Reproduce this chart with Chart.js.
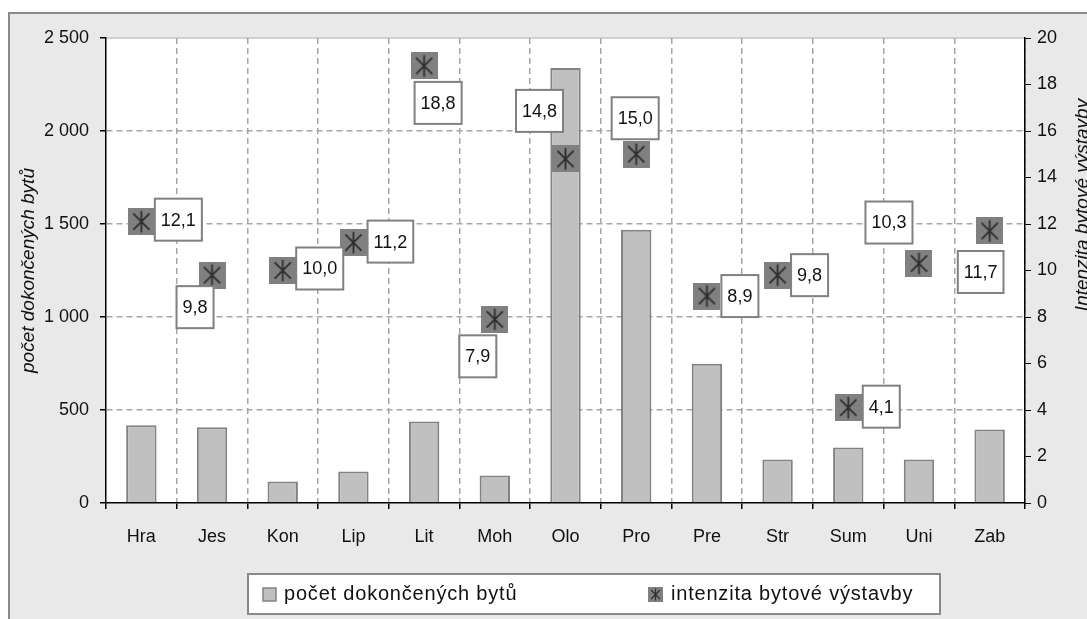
<!DOCTYPE html>
<html>
<head>
<meta charset="utf-8">
<script src="https://cdn.jsdelivr.net/npm/chart.js@4.4.1/dist/chart.umd.min.js"></script>
<style>
  html, body { margin: 0; padding: 0; background: #fff; }
  #wrap { width: 1087px; height: 619px; position: relative; }
</style>
</head>
<body>
<div id="wrap"><canvas id="chart"></canvas></div>
<script>
const categories = ['Hra', 'Jes', 'Kon', 'Lip', 'Lit', 'Moh', 'Olo', 'Pro', 'Pre', 'Str', 'Sum', 'Uni', 'Zab'];
const completedFlats = [418, 407, 115, 169, 438, 148, 2339, 1469, 749, 234, 298, 234, 395];
const intensity = [12.1, 9.8, 10.0, 11.2, 18.8, 7.9, 14.8, 15.0, 8.9, 9.8, 4.1, 10.3, 11.7];
const leftTicks = [0, 500, 1000, 1500, 2000, 2500];
const rightTicks = [0, 2, 4, 6, 8, 10, 12, 14, 16, 18, 20];

// where each value box sits, relative to its marker (box centre)
const labelOffsets = [[37, -2], [-17, 32], [37, -2], [37, -1], [14, 37], [-17, 37], [-26, -48],
                      [-1, -36], [33, 0], [32, 0], [33, -1], [-30, -41], [-9, 41]];

const FONT = '"Liberation Sans", Arial, sans-serif';
const textColor = '#111';

function makeMarker(size) {
  const c = document.createElement('canvas');
  c.width = size; c.height = size;
  const g = c.getContext('2d');
  g.fillStyle = '#808080';
  g.fillRect(0, 0, size, size);
  g.strokeStyle = '#2e2e2e';
  g.lineWidth = size > 20 ? 1.8 : 1.2;
  const m = size / 2, a = size * 0.2, b = size * 0.8;
  g.beginPath();
  g.moveTo(m, size * 0.1); g.lineTo(m, size * 0.9);
  g.moveTo(a, a); g.lineTo(b, b);
  g.moveTo(b, a); g.lineTo(a, b);
  g.stroke();
  return c;
}
const marker = makeMarker(27);
const legendMarker = makeMarker(15);

function fmtSpace(v) {
  return String(v).replace(/\B(?=(\d{3})+(?!\d))/g, ' ');
}

const framePlugin = {
  id: 'frame',
  beforeDraw(chart) {
    const { ctx, chartArea: a, width, height } = chart;
    ctx.save();
    ctx.fillStyle = '#fff';
    ctx.fillRect(0, 0, width, height);
    ctx.fillStyle = '#e9e9e9';
    ctx.fillRect(8, 12, width - 8, height - 12);
    ctx.strokeStyle = '#8a8a8a';
    ctx.lineWidth = 2;
    ctx.beginPath();
    ctx.moveTo(9, height); ctx.lineTo(9, 13); ctx.lineTo(width, 13);
    ctx.stroke();
    ctx.fillStyle = '#fff';
    ctx.fillRect(a.left, a.top, a.right - a.left, a.bottom - a.top);
    ctx.strokeStyle = '#c4c4c4';
    ctx.lineWidth = 1.5;
    ctx.beginPath();
    ctx.moveTo(a.left, a.top); ctx.lineTo(a.right, a.top);
    ctx.stroke();
    ctx.restore();
  },
  afterDraw(chart) {
    const { ctx } = chart;
    // right axis title, reads bottom to top like the left one
    ctx.save();
    ctx.translate(1088, 205);
    ctx.rotate(-Math.PI / 2);
    ctx.font = 'italic 19px ' + FONT;
    ctx.fillStyle = textColor;
    ctx.textAlign = 'center';
    ctx.textBaseline = 'alphabetic';
    ctx.fillText('Intenzita bytové výstavby', 0, 0);
    ctx.restore();

    // legend
    const ds = chart.data.datasets;
    ctx.save();
    ctx.fillStyle = '#fff';
    ctx.fillRect(248, 574, 692, 40);
    ctx.strokeStyle = '#8a8a8a';
    ctx.lineWidth = 2;
    ctx.strokeRect(248, 574, 692, 40);
    ctx.font = '20px ' + FONT;
    ctx.letterSpacing = '0.8px';
    ctx.textBaseline = 'middle';
    const ly = 594;
    ctx.fillStyle = ds[0].backgroundColor;
    ctx.fillRect(263, ly - 6, 13, 13);
    ctx.strokeStyle = ds[0].borderColor;
    ctx.lineWidth = 1.5;
    ctx.strokeRect(263, ly - 6, 13, 13);
    ctx.fillStyle = textColor;
    ctx.fillText(ds[0].label, 284, ly);
    ctx.drawImage(legendMarker, 648, ly - 7);
    ctx.fillText(ds[1].label, 671, ly);
    ctx.restore();
  }
};

const valueBoxes = {
  id: 'valueBoxes',
  afterDatasetsDraw(chart) {
    const { ctx } = chart;
    const meta = chart.getDatasetMeta(1);
    ctx.save();
    ctx.font = '18px ' + FONT;
    meta.data.forEach((pt, i) => {
      const txt = intensity[i].toFixed(1).replace('.', ',');
      const w = ctx.measureText(txt).width + 12;
      const h = 42;
      const cx = pt.x + labelOffsets[i][0];
      const cy = pt.y + labelOffsets[i][1];
      ctx.fillStyle = '#fff';
      ctx.fillRect(cx - w / 2, cy - h / 2, w, h);
      ctx.strokeStyle = '#808080';
      ctx.lineWidth = 2;
      ctx.strokeRect(cx - w / 2, cy - h / 2, w, h);
      ctx.fillStyle = textColor;
      ctx.textAlign = 'center';
      ctx.textBaseline = 'middle';
      ctx.fillText(txt, cx, cy + 1);
    });
    ctx.restore();
  }
};

new Chart(document.getElementById('chart'), {
  data: {
    labels: categories,
    datasets: [{
      type: 'bar',
      label: 'počet dokončených bytů',
      data: completedFlats,
      backgroundColor: '#c0c0c0',
      borderColor: '#828282',
      borderWidth: 2,
      borderSkipped: 'bottom',
      categoryPercentage: 1,
      barPercentage: 0.43,
      yAxisID: 'y',
      order: 2
    }, {
      type: 'line',
      label: 'intenzita bytové výstavby',
      data: intensity,
      showLine: false,
      pointStyle: marker,
      pointRadius: 13,
      yAxisID: 'y1',
      order: 1
    }]
  },
  options: {
    responsive: true,
    maintainAspectRatio: false,
    animation: false,
    layout: { padding: { top: 38, bottom: 66, left: 0, right: 0 } },
    plugins: {
      legend: { display: false },
      tooltip: { enabled: false }
    },
    scales: {
      x: {
        offset: true,
        afterFit: s => { s.height = 50; },
        grid: {
          offset: true,
          color: c => (c.index === 0 || c.index === categories.length) ? 'rgba(0,0,0,0)' : '#a6a6a6',
          lineWidth: 1.5,
          tickColor: '#000',
          tickLength: 6,
          tickBorderDash: []
        },
        border: { color: '#000', width: 1.5, dash: [6, 4] },
        ticks: { color: textColor, font: { family: FONT, size: 18 }, padding: 17 }
      },
      y: {
        position: 'left',
        min: leftTicks[0],
        max: leftTicks[leftTicks.length - 1],
        afterFit: s => { s.width = 106; },
        afterBuildTicks: s => { s.ticks = leftTicks.map(v => ({ value: v })); },
        grid: {
          color: c => (c.tick && (c.tick.value === 0 || c.tick.value === 2500)) ? 'rgba(0,0,0,0)' : '#a6a6a6',
          lineWidth: 1.5,
          tickColor: '#000',
          tickLength: 6,
          tickBorderDash: []
        },
        border: { color: '#000', width: 1.5, dash: [6, 4] },
        ticks: {
          color: textColor,
          font: { family: FONT, size: 18 },
          padding: 11,
          callback: v => fmtSpace(v)
        },
        title: {
          display: true,
          text: 'počet dokončených bytů',
          color: textColor,
          font: { family: FONT, size: 19, style: 'italic' },
          padding: { top: 17, bottom: 0 }
        }
      },
      y1: {
        position: 'right',
        min: rightTicks[0],
        max: rightTicks[rightTicks.length - 1],
        afterFit: s => { s.width = 62; },
        afterBuildTicks: s => { s.ticks = rightTicks.map(v => ({ value: v })); },
        grid: {
          drawOnChartArea: false,
          tickColor: '#000',
          tickLength: 6
        },
        border: { color: '#000', width: 1.5 },
        ticks: {
          color: textColor,
          font: { family: FONT, size: 18 },
          padding: 6
        }
      }
    }
  },
  plugins: [framePlugin, valueBoxes]
});
</script>
</body>
</html>
